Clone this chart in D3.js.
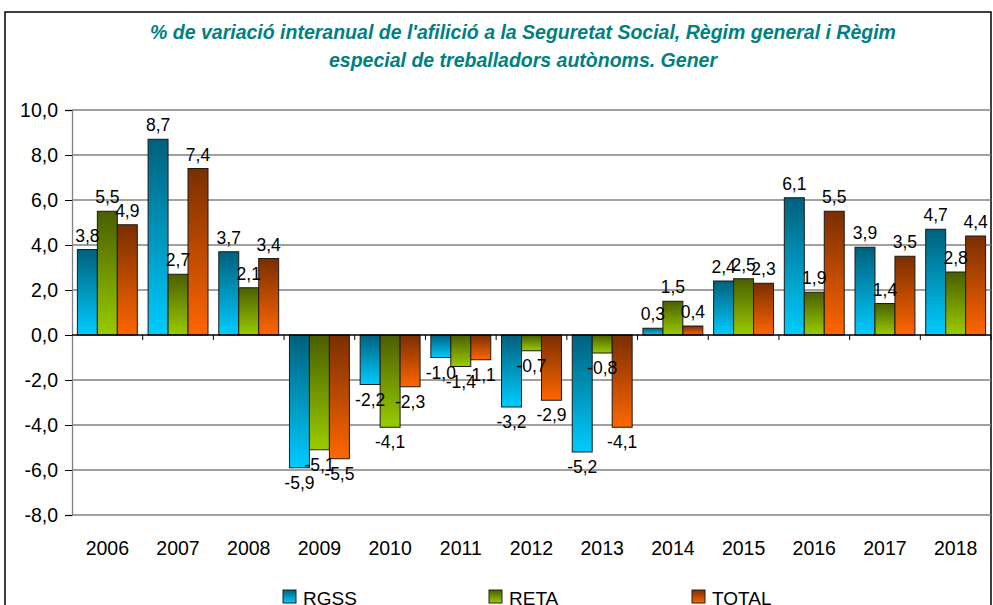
<!DOCTYPE html>
<html>
<head>
<meta charset="utf-8">
<script src="https://cdn.jsdelivr.net/npm/d3@7"></script>
<style>
  body { margin: 0; background: #fff; }
  text { font-family: "Liberation Sans", Arial, sans-serif; }
</style>
</head>
<body>
<script>
var years = ["2006","2007","2008","2009","2010","2011","2012","2013","2014","2015","2016","2017","2018"];
var rgss  = [3.8, 8.7, 3.7, -5.9, -2.2, -1.0, -3.2, -5.2, 0.3, 2.4, 6.1, 3.9, 4.7];
var reta  = [5.5, 2.7, 2.1, -5.1, -4.1, -1.4, -0.7, -0.8, 1.5, 2.5, 1.9, 1.4, 2.8];
var total = [4.9, 7.4, 3.4, -5.5, -2.3, -1.1, -2.9, -4.1, 0.4, 2.3, 5.5, 3.5, 4.4];
var seriesNames = ["RGSS", "RETA", "TOTAL"];
var yTicks = [-8, -6, -4, -2, 0, 2, 4, 6, 8, 10];
var titleLines = ["% de variació interanual de l'afilició a la Seguretat Social, Règim general i Règim",
                  "especial de treballadors autònoms. Gener"];

var gradColors = [["#00607c", "#00ccff"], ["#4a5e00", "#99cc00"], ["#7a2e00", "#ff6600"]];
var seriesData = [rgss, reta, total];

var W = 993, H = 605;
var plotLeft = 72, plotRight = 991, plotTop = 110, plotBottom = 515;

var svg = d3.select("body").append("svg")
    .attr("width", W)
    .attr("height", H);

var defs = svg.append("defs");
gradColors.forEach(function(c, i) {
  var g = defs.append("linearGradient")
      .attr("id", "grad" + i)
      .attr("x1", 0).attr("y1", 0).attr("x2", 0).attr("y2", 1);
  g.append("stop").attr("offset", "0%").attr("stop-color", c[0]);
  g.append("stop").attr("offset", "100%").attr("stop-color", c[1]);
});

// outer frame
svg.append("path")
    .attr("d", "M5," + H + "V12H991V" + H)
    .attr("fill", "none")
    .attr("stroke", "#000")
    .attr("stroke-width", 1.5);

// title
svg.selectAll(".title")
    .data(titleLines)
    .enter().append("text")
    .attr("class", "title")
    .attr("x", 523)
    .attr("y", function(d, i) { return 39 + i * 28; })
    .attr("text-anchor", "middle")
    .attr("fill", "#008080")
    .style("font-size", "19.5px")
    .style("font-weight", "bold")
    .style("font-style", "italic")
    .text(function(d) { return d; });

var x = d3.scaleBand().domain(years).range([plotLeft, plotRight]).paddingInner(0).paddingOuter(0);
var x1 = d3.scaleBand().domain(seriesNames).range([0, x.bandwidth()]).paddingOuter(0.27);
var y = d3.scaleLinear().domain([-8, 10]).range([plotBottom, plotTop]);

var fmt = function(v) { return d3.format(".1f")(v).replace(".", ",").replace("\u2212", "-"); };

// gridlines
svg.selectAll(".grid")
    .data(yTicks.filter(function(d) { return d !== 0; }))
    .enter().append("line")
    .attr("x1", plotLeft).attr("x2", plotRight)
    .attr("y1", function(d) { return y(d); })
    .attr("y2", function(d) { return y(d); })
    .attr("stroke", "#808080")
    .attr("stroke-width", 1.3);

// y axis
var yAxis = svg.append("g")
    .attr("transform", "translate(" + plotLeft + ",0)")
    .call(d3.axisLeft(y).tickValues(yTicks).tickSize(7).tickPadding(7).tickFormat(fmt));
yAxis.selectAll("text").style("font-size", "19.5px").attr("fill", "#000")
    .style("font-family", "'Liberation Sans', Arial, sans-serif");
yAxis.select(".domain").attr("stroke", "#808080").attr("stroke-width", 1.3);
yAxis.selectAll(".tick line").attr("stroke", "#000");

// bars
var groups = svg.selectAll(".year")
    .data(years)
    .enter().append("g")
    .attr("transform", function(d) { return "translate(" + x(d) + ",0)"; });

function rows(d, i) {
  return seriesNames.map(function(s, k) { return {s: s, k: k, v: seriesData[k][i]}; });
}

groups.selectAll("rect")
    .data(rows)
    .enter().append("rect")
    .attr("x", function(d) { return x1(d.s); })
    .attr("width", x1.bandwidth())
    .attr("y", function(d) { return y(Math.max(0, d.v)); })
    .attr("height", function(d) { return Math.abs(y(d.v) - y(0)); })
    .attr("fill", function(d) { return "url(#grad" + d.k + ")"; })
    .attr("stroke", "#1a1a1a")
    .attr("stroke-width", 1);

groups.selectAll(".lbl")
    .data(rows)
    .enter().append("text")
    .attr("class", "lbl")
    .attr("x", function(d) { return x1(d.s) + x1.bandwidth() / 2; })
    .attr("y", function(d) { return d.v >= 0 ? y(d.v) - 8 : y(d.v) + 21; })
    .attr("text-anchor", "middle")
    .style("font-size", "17.5px")
    .text(function(d) { return fmt(d.v); });

// x axis at zero
var xAxis = svg.append("g")
    .attr("transform", "translate(0," + y(0) + ")");
xAxis.append("line")
    .attr("x1", plotLeft).attr("x2", plotRight)
    .attr("stroke", "#000").attr("stroke-width", 1.3);
xAxis.selectAll(".xt")
    .data(years)
    .enter().append("line")
    .attr("x1", function(d) { return x(d) + x.bandwidth(); })
    .attr("x2", function(d) { return x(d) + x.bandwidth(); })
    .attr("y1", 0).attr("y2", 5)
    .attr("stroke", "#000");

// category labels
svg.selectAll(".cat")
    .data(years)
    .enter().append("text")
    .attr("x", function(d) { return x(d) + x.bandwidth() / 2; })
    .attr("y", 555)
    .attr("text-anchor", "middle")
    .style("font-size", "19.5px")
    .text(function(d) { return d; });

// legend
var legX = [283, 489, 692];
var leg = svg.selectAll(".leg")
    .data(seriesNames)
    .enter().append("g")
    .attr("transform", function(d, i) { return "translate(" + legX[i] + ",590)"; });
leg.append("rect")
    .attr("width", 13).attr("height", 13)
    .attr("fill", function(d, i) { return "url(#grad" + i + ")"; })
    .attr("stroke", "#222");
leg.append("text")
    .attr("x", 20).attr("y", 15)
    .style("font-size", "19px")
    .text(function(d) { return d; });
</script>
</body>
</html>
